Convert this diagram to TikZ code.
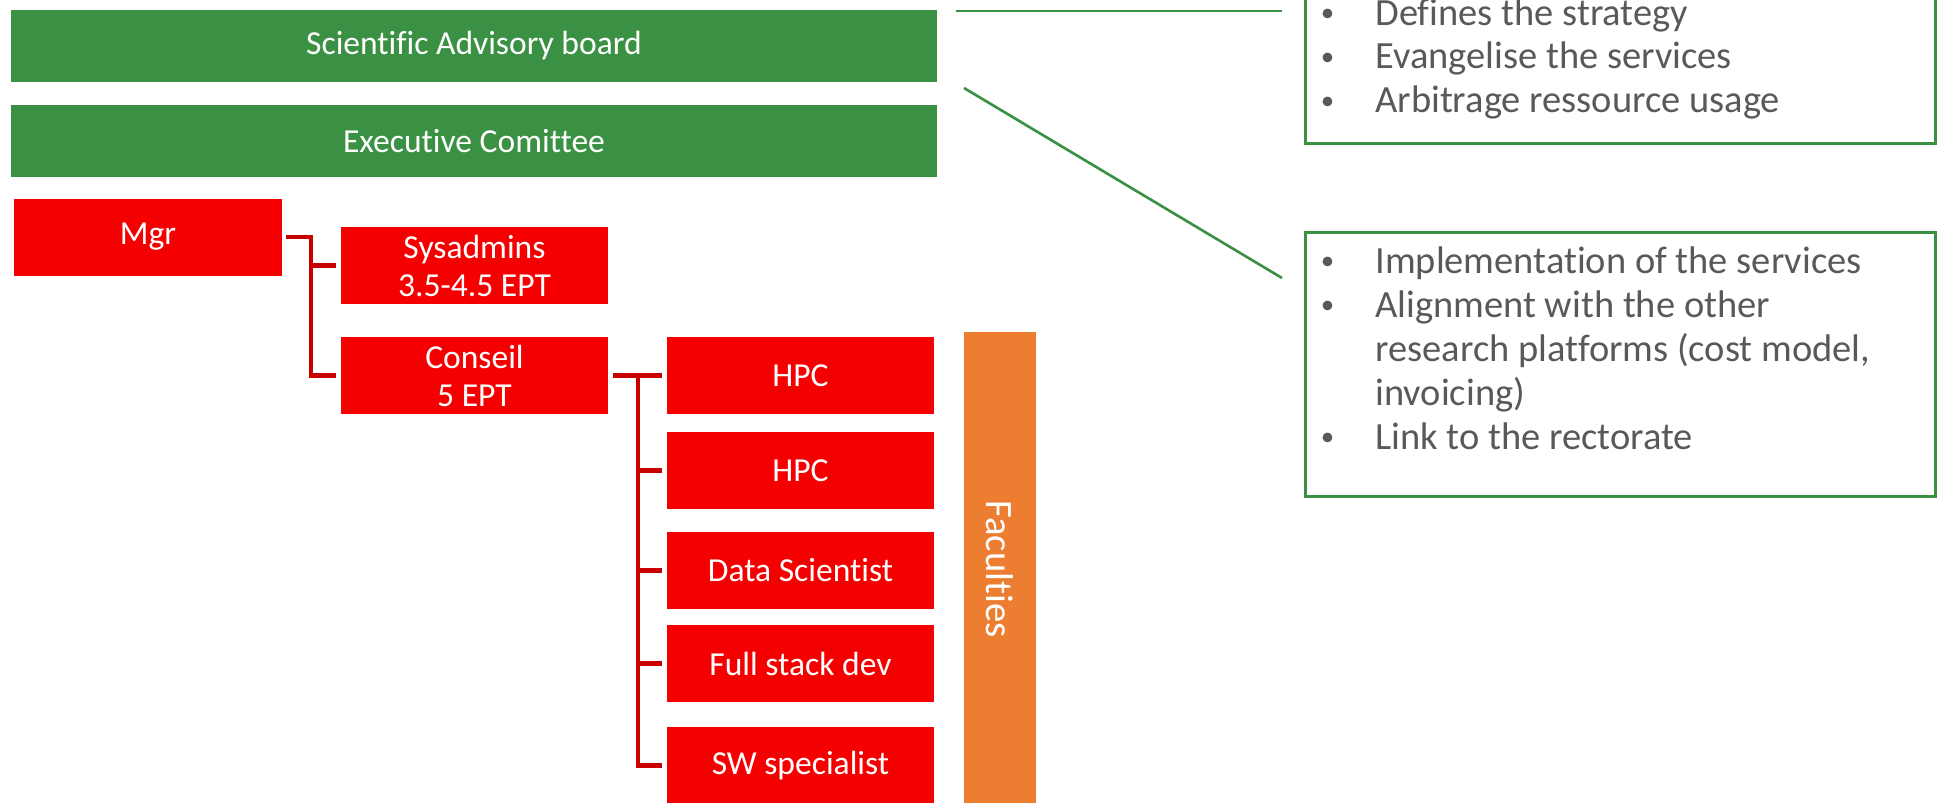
\documentclass[tikz,border=0pt]{standalone}
\usepackage{fontspec}
\setmainfont{Carlito}[Ligatures=NoCommon]
\usepackage{tikz}

\definecolor{boardgreen}{RGB}{59,145,67}
\definecolor{unitred}{RGB}{245,0,0}
\definecolor{linkred}{RGB}{200,0,0}
\definecolor{facorange}{RGB}{237,125,49}
\definecolor{notegray}{RGB}{89,89,89}

\newcommand{\bul}{\makebox[1.14cm][l]{\hspace{0.05cm}\raisebox{0.1em}{\scalebox{0.7}{\textbullet}}}}
\newcommand{\bulskip}{\makebox[1.14cm]{}}

\begin{document}
\begin{tikzpicture}[
    lab/.style={font=\fontsize{19.1}{21.6}\selectfont, text=white, align=center, inner sep=0pt},
    board/.style={lab, fill=boardgreen, minimum width=18.52cm, minimum height=1.44cm},
    unit/.style={lab, fill=unitred, minimum width=5.34cm, minimum height=1.54cm},
    orgline/.style={draw=linkred, line width=2.3pt, shorten >=0.09cm},
    link/.style={draw=boardgreen, line width=1.5pt},
    duty/.style={draw=boardgreen, line width=1.7pt, minimum width=12.6cm, inner sep=0pt},
    notes/.style={font=\fontsize{21.9}{25}\selectfont, text=notegray, inner sep=0pt, anchor=base west}
  ]
    \useasboundingbox (0,0) rectangle (38.9,-16.04);

    \node[board] (sab) at (9.48,-0.92) {Scientific Advisory board};
    \node[board] (exec) at (9.48,-2.82) {Executive Comittee};

    \node[unit, minimum width=5.36cm] (mgr) at (2.96,-4.74) {Mgr};
    \node[unit] (sys) at (9.49,-5.31) {Sysadmins\\3.5-4.5 EPT};
    \node[unit] (conseil) at (9.49,-7.51) {Conseil\\5 EPT};

    \node[unit] (hpca) at (16.01,-7.51) {HPC};
    \node[unit] (hpcb) at (16.01,-9.41) {HPC};
    \node[unit] (data) at (16.01,-11.41) {Data Scientist};
    \node[unit] (stack) at (16.01,-13.27) {Full stack dev};
    \node[unit] (sw) at (16.01,-15.31) {SW specialist};

    \node[lab, fill=facorange, font=\fontsize{22}{24}\selectfont, rotate=-90,
          minimum width=9.48cm, minimum height=1.44cm] (fac) at (20.0,-11.38) {Faculties};

    \draw[orgline, shorten <=0.08cm] (mgr.east) -- ++(0.58,0) coordinate (mgrbus) |- (sys.west);
    \draw[orgline] (mgrbus) |- (conseil.west);

    \draw[orgline, shorten <=0.1cm] (conseil.east) -- ++(0.6,0) coordinate (conbus) |- (sw.west);
    \foreach \n in {hpca,hpcb,data,stack}
      \draw[orgline] (conbus) |- (\n.west);

    \node[duty, minimum height=3.16cm] (boardduty) at (32.4,-1.28) {};
    \node[duty, minimum height=5.28cm] (teamduty) at (32.4,-7.28) {};

    \node[notes] (boardnotes) at (26.36,-0.5) {\begin{tabular}[t]{@{}l@{}}
        \bul Defines the strategy\\
        \bul Evangelise the services\\
        \bul Arbitrage ressource usage
      \end{tabular}};
    \node[notes] (teamnotes) at (26.36,-5.47) {\begin{tabular}[t]{@{}l@{}}
        \bul Implementation of the services\\
        \bul Alignment with the other\\
        \bulskip research platforms (cost model,\\
        \bulskip invoicing)\\
        \bul Link to the rectorate
      \end{tabular}};

    \coordinate (boardtip) at (19.12,-0.22);
    \coordinate (boardend) at (25.64,-0.22);
    \coordinate (exectip) at (19.28,-1.76);
    \coordinate (execend) at (25.64,-5.56);
    \draw[link] (boardtip) -- (boardend);
    \draw[link] (exectip) -- (execend);
\end{tikzpicture}
\end{document}
